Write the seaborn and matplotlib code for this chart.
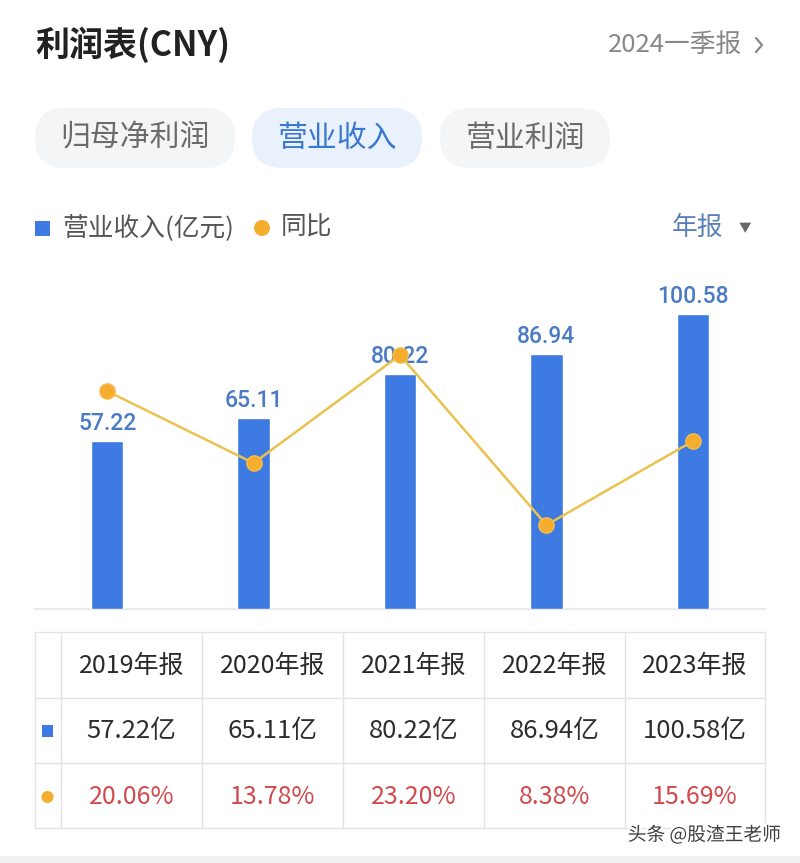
import matplotlib
matplotlib.use('Agg')
import matplotlib.pyplot as plt
import seaborn as sns
import pandas as pd
from matplotlib.patches import FancyBboxPatch, Rectangle, Circle
import matplotlib.patheffects as pe

# ---- data ----
periods = ['2019年报', '2020年报', '2021年报', '2022年报', '2023年报']
revenue = [57.22, 65.11, 80.22, 86.94, 100.58]
yoy = [20.06, 13.78, 23.20, 8.38, 15.69]
tabs = ['归母净利润', '营业收入', '营业利润']
title = '利润表(CNY)'
period_sel = '2024一季报'
legend_bar = '营业收入(亿元)'
legend_line = '同比'
freq = '年报'
watermark = '头条 @股渣王老师'

sns.set_theme(style='white')
plt.rcParams['font.family'] = ['Noto Sans CJK SC', 'DejaVu Sans']

W, H = 800, 863
fig = plt.figure(figsize=(8, 8.63), dpi=100)
fig.patch.set_facecolor('white')

BLUE = '#3d7be3'
ORANGE = '#f5ad2e'
LINE = '#e9c24f'

# background overlay axes in pixel coordinates
bg = fig.add_axes([0, 0, 1, 1])
bg.set_xlim(0, W)
bg.set_ylim(H, 0)
bg.axis('off')
bg.patch.set_alpha(0)


def fx(x):
    return x / W


def fy(y):
    return 1 - y / H


# ---- header ----
bg.text(35, 45, title, fontsize=24.5, fontweight='bold', color='#222222', ha='left', va='center')
bg.text(742, 45, period_sel, fontsize=18.5, color='#888888', ha='right', va='center')
bg.plot([756, 762, 756], [38, 45, 52], color='#888888', lw=1.6, solid_capstyle='round')

# ---- tabs ----
tab_x = [(35, 235), (252, 422), (440, 610)]
for i, (t, (x0, x1)) in enumerate(zip(tabs, tab_x)):
    active = (i == 1)
    fc = '#e9f1fc' if active else '#f4f5f7'
    bg.add_patch(FancyBboxPatch((x0, 108), x1 - x0, 60,
                                boxstyle='round,pad=0,rounding_size=30',
                                fc=fc, ec='none'))
    bg.text((x0 + x1) / 2, 138, t, fontsize=21.5, ha='center', va='center',
            color='#3a78d4' if active else '#6b6b6b')

# ---- legend row ----
bg.add_patch(Rectangle((35, 220.5), 15, 15, fc=BLUE, ec='none'))
bg.text(62, 228, legend_bar, fontsize=18.5, color='#555555', ha='left', va='center')
bg.add_patch(Circle((262, 228), 8, fc=ORANGE, ec='none'))
bg.text(281, 228, legend_line, fontsize=18.5, color='#555555', ha='left', va='center')
bg.text(672, 228, freq, fontsize=18.5, color='#5a80b8', ha='left', va='center')
bg.text(745, 229, '▼', fontsize=9, color='#666666', ha='center', va='center')

# ---- chart ----
df = pd.DataFrame({'period': periods, 'revenue': revenue, 'yoy': yoy})
ax = fig.add_axes([fx(34), fy(609), (766 - 34) / W, (609 - 270) / H])
ax.patch.set_alpha(0)
sns.barplot(data=df, x='period', y='revenue', color=BLUE, width=0.22,
            saturation=1, ax=ax)
ax.set_xlim(-0.5, 4.5)
ax.set_ylim(0, 115.7)
ax.axis('off')
ax.axhline(0, color='#e8e8e8', lw=1.3, clip_on=False, zorder=0)
for i, v in enumerate(revenue):
    ax.annotate(f'{v:.2f}', (i, v), xytext=(0, 6), textcoords='offset pixels',
                ha='center', va='bottom', color='#4b7bc4', fontsize=16.5,
                fontfamily=['Roboto', 'DejaVu Sans'], fontweight='medium')

ax2 = ax.twinx()
sns.lineplot(data=df, x='period', y='yoy', sort=False, color=LINE, lw=1.8,
             marker='o', markersize=11, markerfacecolor=ORANGE,
             markeredgecolor='#f7bb4e', markeredgewidth=1, ax=ax2)
ax2.set_ylim(1.05, 30.63)
ax2.set_xlim(-0.5, 4.5)
ax2.axis('off')

# ---- table ----
tl, tr, tt, tb = 35, 765, 632, 828
col_edges = [35, 61, 202, 343, 484, 625, 765]
row_edges = [632, 698, 763, 828]
GRID = '#e3e3e3'
for x in col_edges:
    bg.plot([x, x], [tt, tb], color=GRID, lw=1)
for y in row_edges:
    bg.plot([tl, tr], [y, y], color=GRID, lw=1)

centers = [(col_edges[k] + col_edges[k + 1]) / 2 for k in range(1, 6)]
for c, p, r, g in zip(centers, periods, revenue, yoy):
    bg.text(c, 666, p, fontsize=18, color='#2a2a2a', ha='center', va='center', fontweight='medium')
    bg.text(c, 731, f'{r:.2f}亿', fontsize=18.5, color='#2e2e2e', ha='center', va='center')
    bg.text(c, 797, f'{g:.2f}%', fontsize=18, color='#d04a4e', ha='center', va='center')
bg.add_patch(Rectangle((42, 725), 11, 12, fc=BLUE, ec='none'))
bg.add_patch(Circle((47.5, 797), 6, fc=ORANGE, ec='none'))

# ---- watermark & bottom strip ----
bg.text(781, 835, watermark, fontsize=13.5, color='#404040', ha='right', va='center',
        path_effects=[pe.withStroke(linewidth=3, foreground='white')])
bg.add_patch(Rectangle((0, 856), W, 7, fc='#f0f0f0', ec='none'))

fig.savefig('out.png', dpi=100, facecolor='white')
